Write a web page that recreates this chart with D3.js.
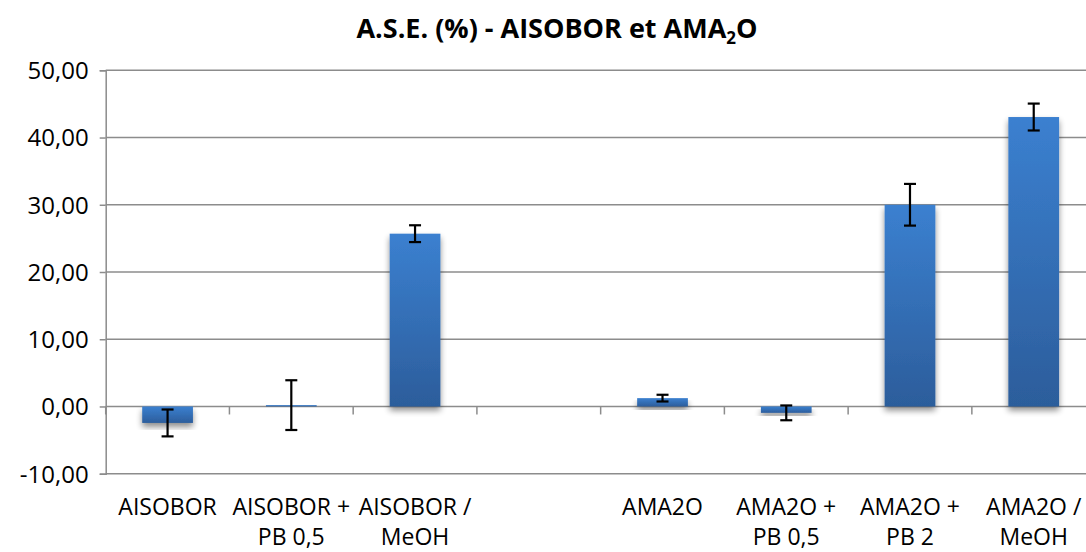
<!DOCTYPE html>
<html><head><meta charset="utf-8">
<script src="https://cdn.jsdelivr.net/npm/d3@7"></script>
<style>body{margin:0;background:#fff;}svg{display:block;}</style>
</head><body>
<svg id="c" width="1086" height="552"></svg>
<script>
const categories = ["AISOBOR", "AISOBOR + PB 0,5", "AISOBOR / MeOH", "", "AMA2O", "AMA2O + PB 0,5", "AMA2O + PB 2", "AMA2O / MeOH"];
const values = [-2.45, 0.2, 25.7, null, 1.24, -0.95, 30.0, 43.05];
const errors = [2.0, 3.7, 1.25, null, 0.5, 1.1, 3.1, 2.0];
const yTicks = [-10, 0, 10, 20, 30, 40, 50];

const svg = d3.select("#c");
const font = "'Open Sans', sans-serif";
const x = d3.scaleBand().domain(d3.range(categories.length)).range([105.7, 1095.6]).paddingInner(0.59).paddingOuter(0.295);
const y = d3.scaleLinear().domain([-10, 50]).range([473.7, 70.3]);
const slot = (1095.6 - 105.7) / categories.length;

const defs = svg.append("defs");
const gPos = defs.append("linearGradient").attr("id", "gp").attr("x1", 0).attr("y1", 0).attr("x2", 0).attr("y2", 1);
gPos.append("stop").attr("offset", "0%").attr("stop-color", "#3b80d0");
gPos.append("stop").attr("offset", "100%").attr("stop-color", "#2c5d9b");
const f = defs.append("filter").attr("id", "sh").attr("x", "-20%").attr("y", "-20%").attr("width", "140%").attr("height", "160%");
f.append("feGaussianBlur").attr("in", "SourceAlpha").attr("stdDeviation", 3);
f.append("feOffset").attr("dx", 0).attr("dy", 4).attr("result", "b");
f.append("feComponentTransfer").append("feFuncA").attr("type", "linear").attr("slope", 0.45);
const m = f.append("feMerge"); m.append("feMergeNode"); m.append("feMergeNode").attr("in", "SourceGraphic");

// gridlines
svg.append("g").selectAll("line").data(yTicks).join("line")
  .attr("x1", 105.7).attr("x2", 1096).attr("y1", d => y(d)).attr("y2", d => y(d))
  .attr("stroke", "#8c8c8c").attr("stroke-width", 1.5);

// y axis
const ya = svg.append("g").attr("transform", "translate(105.7,0)")
  .call(d3.axisLeft(y).tickValues(yTicks).tickSize(6).tickFormat(d => d3.format(".2f")(d).replace(".", ",").replace("\u2212", "-")));
ya.select(".domain").attr("stroke", "#8c8c8c").attr("stroke-width", 1.5);
ya.selectAll(".tick line").attr("stroke", "#8c8c8c").attr("stroke-width", 1.5);
ya.selectAll("text").attr("font-family", font).attr("font-size", 24).attr("fill", "#000").attr("x", -17).attr("dy", "0.35em");

// category ticks on zero line
svg.append("g").selectAll("line").data(d3.range(categories.length + 1)).join("line")
  .attr("x1", i => 105.7 + i * slot).attr("x2", i => 105.7 + i * slot)
  .attr("y1", y(0)).attr("y2", y(0) + 8).attr("stroke", "#8c8c8c").attr("stroke-width", 1.5);

// bars
const data = categories.map((c, i) => ({i, v: values[i], e: errors[i]})).filter(d => d.v !== null);
svg.append("g").selectAll("rect").data(data).join("rect")
  .attr("x", d => x(d.i)).attr("width", x.bandwidth())
  .attr("y", d => y(Math.max(0, d.v))).attr("height", d => Math.abs(y(d.v) - y(0)))
  .attr("fill", "url(#gp)").attr("filter", "url(#sh)");

// error bars
const eg = svg.append("g").attr("stroke", "#000").attr("stroke-width", 2.2);
data.forEach(d => {
  const cx = x(d.i) + x.bandwidth() / 2;
  eg.append("line").attr("x1", cx).attr("x2", cx).attr("y1", y(d.v + d.e)).attr("y2", y(d.v - d.e));
  [d.v + d.e, d.v - d.e].forEach(v => eg.append("line").attr("x1", cx - 6).attr("x2", cx + 6).attr("y1", y(v)).attr("y2", y(v)));
});

// category labels
const lg = svg.append("g").attr("font-family", font).attr("font-size", 23).attr("text-anchor", "middle").attr("fill", "#000");
categories.forEach((c, i) => {
  const mm = c.match(/^(.*?[+\/])\s+(.*)$/);
  const lines = mm ? [mm[1], mm[2]] : [c];
  const cx = 105.7 + (i + 0.5) * slot;
  lines.forEach((t, k) => lg.append("text").attr("x", cx).attr("y", 515 + k * 30).text(t));
});

// title
const t = svg.append("text").attr("x", 557).attr("y", 38).attr("text-anchor", "middle")
  .attr("font-family", font).attr("font-weight", "bold").attr("font-size", 27).attr("fill", "#000");
t.append("tspan").text("A.S.E. (%) - AISOBOR et AMA");
t.append("tspan").attr("font-size", 17).attr("dy", 6).text("2");
t.append("tspan").attr("dy", -6).text("O");
</script>
</body></html>
